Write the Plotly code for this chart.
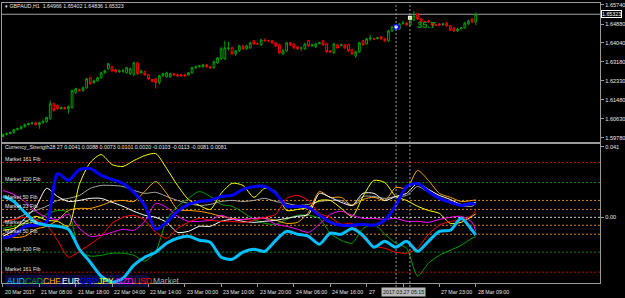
import plotly.graph_objects as go

# ---------------- data ----------------
bar_open = [1.5983,1.5992,1.5996,1.6001,1.6014,1.6018,1.6027,1.6036,1.6041,1.6045,
            1.6036,1.6045,1.6050,1.6063,1.6130,1.6122,1.6108,1.6113,1.6108,1.6113,
            1.6180,1.6193,1.6189,1.6202,1.6247,1.6225,1.6233,1.6247,1.6269,1.6287,
            1.6296,1.6283,1.6274,1.6278,1.6269,1.6265,1.6260,1.6314,1.6269,1.6274,
            1.6260,1.6238,1.6242,1.6225,1.6256,1.6251,1.6251,1.6265,1.6260,1.6260,
            1.6260,1.6260,1.6269,1.6292,1.6296,1.6296,1.6305,1.6296,1.6292,1.6314,
            1.6332,1.6332,1.6377,1.6381,1.6354,1.6368,1.6390,1.6377,1.6381,1.6413,
            1.6399,1.6395,1.6417,1.6413,1.6413,1.6404,1.6395,1.6354,1.6368,1.6404,
            1.6399,1.6386,1.6381,1.6377,1.6413,1.6390,1.6386,1.6399,1.6413,1.6399,
            1.6368,1.6359,1.6395,1.6390,1.6395,1.6395,1.6372,1.6345,1.6363,1.6413,
            1.6399,1.6422,1.6422,1.6422,1.6431,1.6422,1.6413,1.6457,1.6471,1.6466,
            1.6489,1.6493,1.6484,1.6507,1.6534,1.6511,1.6498,1.6502,1.6493,1.6484,
            1.6489,1.6484,1.6493,1.6480,1.6471,1.6457,1.6466,1.6471,1.6489,1.6511,
            1.64966]
bar_high = [1.5996,1.6001,1.6005,1.6018,1.6023,1.6032,1.6041,1.6045,1.6045,1.6050,
            1.6050,1.6059,1.6072,1.6144,1.6135,1.6126,1.6117,1.6117,1.6122,1.6193,
            1.6202,1.6198,1.6207,1.6247,1.6251,1.6238,1.6251,1.6274,1.6283,1.6314,
            1.6301,1.6287,1.6283,1.6287,1.6296,1.6292,1.6319,1.6319,1.6283,1.6278,
            1.6265,1.6242,1.6247,1.6260,1.6269,1.6274,1.6269,1.6269,1.6265,1.6265,
            1.6265,1.6274,1.6296,1.6301,1.6305,1.6310,1.6310,1.6301,1.6323,1.6341,
            1.6386,1.6413,1.6408,1.6386,1.6372,1.6395,1.6395,1.6395,1.6408,1.6417,
            1.6404,1.6422,1.6422,1.6417,1.6417,1.6408,1.6399,1.6377,1.6408,1.6408,
            1.6404,1.6390,1.6386,1.6404,1.6417,1.6399,1.6404,1.6408,1.6417,1.6404,
            1.6372,1.6404,1.6399,1.6399,1.6399,1.6399,1.6377,1.6368,1.6408,1.6417,
            1.6426,1.6440,1.6426,1.6431,1.6435,1.6426,1.6462,1.6480,1.6484,1.6493,
            1.6502,1.6498,1.6516,1.6547,1.6538,1.6516,1.6502,1.6507,1.6498,1.6489,
            1.6493,1.6493,1.6498,1.6484,1.6475,1.6471,1.6475,1.6498,1.6507,1.6516,
            1.65402]
bar_low = [1.5978,1.5987,1.5992,1.5996,1.6010,1.6014,1.6023,1.6032,1.6036,1.6032,
           1.6018,1.6041,1.6045,1.6059,1.6095,1.6104,1.6104,1.6104,1.6086,1.6108,
           1.6175,1.6184,1.6184,1.6198,1.6216,1.6220,1.6229,1.6242,1.6265,1.6283,
           1.6274,1.6269,1.6269,1.6269,1.6265,1.6260,1.6256,1.6260,1.6265,1.6256,
           1.6238,1.6225,1.6198,1.6216,1.6251,1.6247,1.6247,1.6256,1.6251,1.6251,
           1.6251,1.6256,1.6265,1.6287,1.6292,1.6292,1.6292,1.6287,1.6287,1.6310,
           1.6327,1.6327,1.6368,1.6350,1.6345,1.6363,1.6372,1.6372,1.6377,1.6395,
           1.6395,1.6390,1.6408,1.6408,1.6399,1.6386,1.6354,1.6350,1.6363,1.6390,
           1.6377,1.6372,1.6368,1.6372,1.6386,1.6386,1.6381,1.6399,1.6390,1.6359,
           1.6359,1.6354,1.6377,1.6390,1.6377,1.6363,1.6350,1.6336,1.6359,1.6390,
           1.6395,1.6413,1.6417,1.6422,1.6417,1.6408,1.6408,1.6453,1.6466,1.6462,
           1.6489,1.6480,1.6480,1.6502,1.6507,1.6493,1.6493,1.6493,1.6480,1.6480,
           1.6480,1.6484,1.6475,1.6457,1.6453,1.6453,1.6466,1.6466,1.6484,1.6493,
           1.64836]
bar_close = [1.5992,1.5996,1.6001,1.6014,1.6018,1.6027,1.6036,1.6041,1.6045,1.6036,
             1.6045,1.6050,1.6068,1.6130,1.6099,1.6108,1.6113,1.6108,1.6117,1.6189,
             1.6198,1.6189,1.6202,1.6242,1.6220,1.6233,1.6247,1.6269,1.6278,1.6310,
             1.6278,1.6274,1.6278,1.6278,1.6292,1.6287,1.6314,1.6265,1.6278,1.6260,
             1.6242,1.6233,1.6225,1.6256,1.6265,1.6269,1.6265,1.6260,1.6256,1.6256,
             1.6256,1.6269,1.6292,1.6296,1.6301,1.6305,1.6296,1.6292,1.6319,1.6336,
             1.6377,1.6381,1.6381,1.6354,1.6368,1.6390,1.6377,1.6390,1.6404,1.6399,
             1.6399,1.6417,1.6413,1.6413,1.6404,1.6390,1.6359,1.6368,1.6404,1.6395,
             1.6381,1.6377,1.6381,1.6399,1.6390,1.6395,1.6399,1.6404,1.6395,1.6363,
             1.6363,1.6399,1.6381,1.6395,1.6381,1.6368,1.6354,1.6363,1.6404,1.6395,
             1.6422,1.6426,1.6422,1.6426,1.6422,1.6413,1.6457,1.6475,1.6475,1.6489,
             1.6493,1.6484,1.6511,1.6525,1.6511,1.6498,1.6498,1.6498,1.6484,1.6484,
             1.6484,1.6489,1.6480,1.6462,1.6457,1.6466,1.6471,1.6493,1.6502,1.6498,
             1.65323]
bar_index = list(range(len(bar_close)))

time_tick_bars = [0, 10, 20, 30, 40, 50, 60, 70, 80, 90, 100, 110, 120, 130]
time_tick_labels = ["20 Mar 2017", "21 Mar 08:00", "21 Mar 18:00", "22 Mar 04:00",
                    "22 Mar 14:00", "23 Mar 00:00", "23 Mar 10:00", "23 Mar 20:00",
                    "24 Mar 06:00", "24 Mar 16:00", "27", "",
                    "27 Mar 23:00", "28 Mar 09:00"]

price_ticks = [1.65740, 1.64880, 1.64040, 1.63180, 1.62330, 1.61480, 1.60630, 1.59780]
bid_price = 1.65323
price_title = "GBPAUD,H1  1.64966 1.65402 1.64836 1.65323"

strength_bars = [0, 3, 6, 9, 12, 15, 18, 21, 24, 27, 30, 33, 36, 39, 42, 45, 48, 51, 54,
                 57, 60, 63, 66, 69, 72, 75, 78, 81, 84, 87, 90, 93, 96, 99, 102, 105,
                 108, 111, 114, 117, 120, 123, 126, 129, 130]
aud = [0.0121,0.0092,0.0029,-0.0029,-0.0046,-0.0052,-0.0069,-0.0185,-0.0260,-0.0341,
       -0.0376,-0.0353,-0.0277,-0.0231,-0.0202,-0.0150,-0.0121,-0.0110,-0.0133,-0.0145,
       -0.0231,-0.0243,-0.0202,-0.0185,-0.0197,-0.0133,-0.0081,-0.0098,-0.0110,-0.0156,
       -0.0092,-0.0098,-0.0064,-0.0104,-0.0173,-0.0139,-0.0173,-0.0139,-0.0197,-0.0139,
       -0.0081,-0.0075,-0.0006,-0.0075,-0.0103]
cad = [-0.0064,-0.0052,-0.0040,-0.0017,0.0017,0.0040,0.0029,-0.0191,-0.0225,-0.0220,
       -0.0208,-0.0208,-0.0220,-0.0254,-0.0197,-0.0017,0.0064,0.0110,0.0150,0.0121,
       0.0075,0.0064,0.0029,-0.0012,-0.0035,-0.0040,-0.0012,0.0012,0.0012,-0.0006,
       -0.0092,-0.0133,-0.0150,-0.0064,-0.0040,-0.0098,-0.0150,-0.0179,-0.0341,-0.0266,
       -0.0220,-0.0191,-0.0162,-0.0121,-0.0113]
chf = [-0.0092,-0.0116,-0.0110,-0.0069,-0.0052,-0.0017,0.0040,0.0052,0.0052,0.0069,
       0.0092,0.0098,0.0092,0.0150,0.0208,0.0139,0.0046,0.0040,0.0035,0.0023,
       0.0006,-0.0006,-0.0012,-0.0006,-0.0006,-0.0017,-0.0035,-0.0029,0.0029,0.0150,
       0.0116,0.0116,0.0069,0.0104,0.0116,0.0098,0.0173,0.0168,0.0272,0.0214,
       0.0139,0.0116,0.0092,0.0098,0.0101]
eur = [-0.0110,-0.0075,-0.0006,0.0058,0.0168,0.0121,0.0092,0.0098,0.0110,0.0110,
       0.0087,0.0064,0.0035,0.0012,0.0000,-0.0029,-0.0087,-0.0081,-0.0052,-0.0052,
       -0.0023,-0.0012,-0.0023,-0.0029,-0.0023,-0.0017,-0.0006,0.0006,0.0017,0.0139,
       0.0116,0.0087,0.0069,0.0139,0.0139,0.0098,0.0121,0.0139,0.0197,0.0162,
       0.0127,0.0104,0.0075,0.0081,0.0088]
gbp = [-0.0121,-0.0104,-0.0052,-0.0046,-0.0029,0.0254,0.0214,0.0277,0.0283,0.0243,
       0.0220,0.0197,0.0145,0.0069,-0.0069,-0.0029,0.0035,0.0075,0.0092,0.0098,
       0.0121,0.0127,0.0162,0.0179,0.0179,0.0139,0.0064,0.0064,0.0058,0.0012,
       -0.0029,-0.0046,-0.0046,-0.0040,-0.0046,-0.0017,0.0069,0.0179,0.0197,0.0150,
       0.0110,0.0087,0.0069,0.0081,0.0073]
jpy = [-0.0075,-0.0064,-0.0029,0.0006,-0.0017,-0.0023,-0.0052,0.0191,0.0318,0.0364,
       0.0306,0.0295,0.0329,0.0358,0.0370,0.0283,0.0185,0.0104,0.0069,0.0046,
       0.0139,0.0197,0.0185,0.0116,0.0168,0.0150,0.0040,0.0046,0.0058,0.0098,
       0.0098,0.0052,0.0006,0.0121,0.0214,0.0202,0.0121,0.0098,0.0064,0.0040,
       0.0023,-0.0035,-0.0029,0.0006,0.0020]
nzd = [0.0156,0.0133,0.0092,0.0035,0.0000,-0.0012,0.0017,-0.0064,-0.0110,-0.0104,
       -0.0087,-0.0069,-0.0075,-0.0023,0.0081,0.0058,0.0006,-0.0023,-0.0023,-0.0017,
       0.0012,-0.0012,-0.0012,-0.0006,-0.0006,-0.0040,-0.0052,-0.0069,-0.0087,-0.0040,
       0.0017,0.0035,0.0012,-0.0006,-0.0006,-0.0012,-0.0006,-0.0023,-0.0023,-0.0029,
       -0.0012,0.0000,0.0006,-0.0029,-0.0081]
usd = [-0.0023,-0.0012,0.0000,-0.0012,-0.0046,-0.0133,-0.0231,-0.0197,-0.0156,-0.0110,
       -0.0035,0.0000,0.0012,-0.0017,-0.0087,-0.0121,-0.0064,-0.0029,-0.0006,-0.0017,
       -0.0023,-0.0023,-0.0029,-0.0017,0.0000,0.0017,0.0110,0.0127,0.0098,0.0023,
       0.0000,-0.0040,-0.0035,-0.0121,-0.0168,-0.0179,-0.0202,-0.0208,-0.0179,-0.0098,
       -0.0046,-0.0023,-0.0017,0.0012,0.0041]
market = [-0.0029,-0.0012,0.0017,0.0040,0.0064,0.0098,0.0110,0.0127,0.0168,0.0185,
          0.0185,0.0179,0.0156,0.0139,0.0145,0.0121,0.0098,0.0081,0.0069,0.0075,
          0.0092,0.0098,0.0092,0.0098,0.0110,0.0092,0.0081,0.0069,0.0075,0.0092,
          0.0098,0.0098,0.0069,0.0121,0.0121,0.0110,0.0121,0.0127,0.0179,0.0145,
          0.0110,0.0092,0.0069,0.0064,0.0081]
strength_title = ("Currency_Strength28 27 0.0041 0.0088 0.0073 0.0101 0.0020 "
                  "-0.0103 -0.0113 -0.0081 0.0081")

fib_levels = [0.0318, 0.0202, 0.0098, 0.0046, 0.0, -0.0046, -0.0098, -0.0202, -0.0318]
fib_names = ["Market 161 Fib", "Market 100 Fib", "Market 50 Fib", "Market 23 Fib", "",
             "Market 23 Fib", "Market 50 Fib", "Market 100 Fib", "Market 161 Fib"]
strength_ticks = [0.041, 0.0]
strength_tick_labels = ["0.041", "0.00"]
strength_min_label = -0.0387

crosshair_bars = [108.1, 111.9]
cursor_time = "2017.03.27 05:15"
pip_text = "35.7"
pip_text_bar = 113.3
pip_text_price = 1.6484

# ---------------- style ----------------
FONT = "Liberation Sans, Arial, sans-serif"
FS = 5.3
TXT = "#e6e6e6"
FRAME = "#9a9a9a"
GREEN = "#00a000"
RED = "#ff0000"
W, H = 625, 298
XL, XR = 2 / W, 603 / W
XRANGE = [-0.27, 164.2]

series = [
    ("Market", market, "#a9a9a9", 1.0),
    ("CAD", cad, "#00a000", 1.0),
    ("CHF", chf, "#ffa500", 1.0),
    ("EUR", eur, "#ffffff", 1.0),
    ("JPY", jpy, "#ffff00", 1.0),
    ("NZD", nzd, "#ff00ff", 1.0),
    ("USD", usd, "#ff0000", 1.0),
    ("GBP", gbp, "#0000ff", 3.0),
    ("AUD", aud, "#00bfff", 3.0),
]
legend_order = [("AUD", "#00bfff"), ("CAD", "#00a000"), ("CHF", "#ffa500"),
                ("EUR", "#ffffff"), ("GBP", "#0000ff"), ("JPY", "#ffff00"),
                ("NZD", "#ff00ff"), ("USD", "#ff0000"), ("Market", "#a9a9a9")]
fib_colors = ["#c00000", "#008800", "#e08000", "#e08000", "#d0d0d0",
              "#e08000", "#e08000", "#008800", "#c00000"]


def py(pix):
    return 1 - pix / H


fig = go.Figure()

fig.add_trace(go.Candlestick(
    x=bar_index, open=bar_open, high=bar_high, low=bar_low, close=bar_close,
    increasing=dict(line=dict(color=GREEN, width=1), fillcolor="black"),
    decreasing=dict(line=dict(color=RED, width=1), fillcolor="black"),
    whiskerwidth=0, xaxis="x", yaxis="y", showlegend=False, hoverinfo="skip"))

# small chart objects near the cursor
fig.add_trace(go.Scatter(x=[crosshair_bars[0]], y=[1.6475], mode="markers",
                         marker=dict(symbol="circle", size=5, color="white",
                                     line=dict(color="#0000ff", width=1.5)),
                         xaxis="x", yaxis="y", showlegend=False, hoverinfo="skip"))
fig.add_trace(go.Scatter(x=[crosshair_bars[1]], y=[1.6516], mode="markers",
                         marker=dict(symbol="square", size=4, color="#fffbe0"),
                         xaxis="x", yaxis="y", showlegend=False, hoverinfo="skip"))

for name, vals, col, w in series:
    fig.add_trace(go.Scatter(x=strength_bars, y=vals, mode="lines", name=name,
                             line=dict(color=col, width=w, shape="spline", smoothing=0.7),
                             xaxis="x2", yaxis="y2", showlegend=False, hoverinfo="skip"))

shapes = []
for lvl, col in zip(fib_levels, fib_colors):
    shapes.append(dict(type="line", xref="paper", yref="y2", x0=XL, x1=XR, y0=lvl, y1=lvl,
                       line=dict(color=col, width=1, dash="2px,2px"), layer="below"))
for b in crosshair_bars:
    shapes.append(dict(type="line", xref="x", yref="paper", x0=b, x1=b,
                       y0=py(287), y1=py(2), line=dict(color="#9a9a9a", width=1, dash="2px,2px")))
# bid line
shapes.append(dict(type="line", xref="paper", yref="y", x0=XL, x1=XR, y0=bid_price, y1=bid_price,
                   line=dict(color="#a0a0a0", width=1), layer="below"))
# legend background band
shapes.append(dict(type="rect", xref="paper", yref="paper", x0=5 / W, x1=149 / W,
                   y0=py(287), y1=py(275), fillcolor="#0a0a3c", line=dict(width=0), layer="below"))

ann = []
ann.append(dict(xref="paper", yref="paper", x=3 / W, y=py(5.5), xanchor="left", yanchor="middle",
                text="▾ " + price_title, showarrow=False, font=dict(size=FS, color=TXT, family=FONT)))
ann.append(dict(xref="paper", yref="paper", x=3 / W, y=py(146.5), xanchor="left", yanchor="middle",
                text=strength_title, showarrow=False, font=dict(size=FS, color=TXT, family=FONT)))
for lvl, nm in zip(fib_levels, fib_names):
    if nm:
        ann.append(dict(xref="paper", yref="y2", x=3 / W, y=lvl, yshift=3.5, xanchor="left",
                        yanchor="middle", text=nm, showarrow=False,
                        font=dict(size=FS, color=TXT, family=FONT)))
# currency legend
for k, (nm, col) in enumerate(legend_order):
    ann.append(dict(xref="paper", yref="paper", x=(5 + 18.3 * k) / W, y=py(281), xanchor="left",
                    yanchor="middle", text=nm, showarrow=False,
                    font=dict(size=8.5, color=col, family=FONT)))
# time labels
for b, lab in zip(time_tick_bars, time_tick_labels):
    if lab:
        ann.append(dict(xref="x2", yref="paper", x=b, y=py(292), xanchor="left", yanchor="middle",
                        text=lab, showarrow=False, font=dict(size=FS, color=TXT, family=FONT)))
ann.append(dict(xref="paper", yref="paper", x=405 / W, y=py(292), xanchor="center", yanchor="middle",
                text=cursor_time, showarrow=False, bgcolor="#b8b8b8", borderpad=1,
                font=dict(size=FS, color="#101010", family=FONT)))
# bid label
ann.append(dict(xref="paper", yref="y", x=604 / W, y=bid_price, xanchor="left", yanchor="middle",
                text=f"{bid_price:.5f}", showarrow=False, bgcolor="#000000", bordercolor="#ffffff",
                borderwidth=1, borderpad=0, font=dict(size=FS, color="#ffffff", family=FONT)))
ann.append(dict(xref="paper", yref="y2", x=604 / W, y=strength_min_label, xanchor="left",
                yanchor="middle", text=str(strength_min_label), showarrow=False,
                font=dict(size=FS, color=TXT, family=FONT)))
ann.append(dict(xref="x", yref="y", x=pip_text_bar, y=pip_text_price, xanchor="left", yanchor="middle",
                text="<b>" + pip_text + "</b>", showarrow=False,
                font=dict(size=9.5, color="#00a000", family=FONT)))

fig.update_layout(
    width=W, height=H, margin=dict(l=0, r=0, t=0, b=0),
    paper_bgcolor="black", plot_bgcolor="black", showlegend=False,
    shapes=shapes, annotations=ann,
    xaxis=dict(domain=[XL, XR], range=XRANGE, showticklabels=False, showgrid=False,
               zeroline=False, showline=True, mirror=True, linecolor=FRAME, linewidth=1,
               rangeslider=dict(visible=False), anchor="y"),
    yaxis=dict(domain=[py(141), py(2)], range=[1.59602, 1.65829], side="right",
               tickvals=price_ticks, ticktext=[f"{v:.5f}" for v in price_ticks],
               tickfont=dict(size=5.6, color=TXT, family=FONT), ticks="outside", ticklen=3,
               tickcolor=FRAME, showgrid=False, zeroline=False, showline=True, mirror=True,
               linecolor=FRAME, anchor="x"),
    xaxis2=dict(domain=[XL, XR], range=XRANGE, anchor="y2", tickvals=time_tick_bars,
                ticks="outside", ticklen=3, tickcolor=FRAME, showticklabels=False,
                showgrid=False, zeroline=False, showline=True, mirror=True, linecolor=FRAME),
    yaxis2=dict(domain=[py(283), py(143)], range=[-0.0381, 0.0428], anchor="x2", side="right",
                tickvals=strength_ticks, ticktext=strength_tick_labels,
                tickfont=dict(size=5.6, color=TXT, family=FONT), ticks="outside", ticklen=3,
                tickcolor=FRAME, showgrid=False, zeroline=False, showline=True, mirror=True,
                linecolor=FRAME),
)

fig.write_html("out.html")
